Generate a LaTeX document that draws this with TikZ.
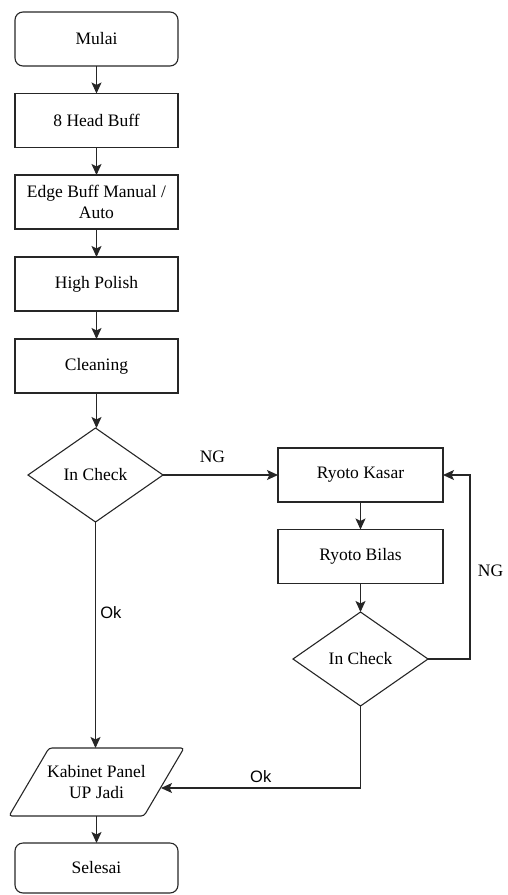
\documentclass[tikz,border=0pt]{standalone}
\usepackage{fontspec}
\setmainfont{Liberation Serif}
\newfontfamily\arialf{Liberation Sans}
\usetikzlibrary{shapes.geometric,arrows.meta,calc}
\definecolor{ln}{gray}{0.15}
\begin{document}
\begin{tikzpicture}[x=1pt,y=-1pt,
  line width=1.1pt,
  txt/.style={font=\fontsize{17.5}{21}\selectfont},
  box/.style={txt, draw=ln, minimum width=163pt, minimum height=54pt, inner sep=2pt, outer sep=0pt, align=center},
  term/.style={box, rounded corners=8pt},
  dec/.style={txt, draw=ln, diamond, minimum width=135pt, minimum height=94pt, inner sep=0pt, outer sep=0pt},
  io/.style={txt, minimum width=135pt, minimum height=68pt, inner sep=0pt, outer sep=0pt, align=center},
  arr/.style={draw=ln, -{Stealth[length=11pt,width=10pt,inset=2.5pt]}},
  lbl/.style={txt},
  lbls/.style={font=\arialf\fontsize{16.5}{19}\selectfont}
]
\useasboundingbox (0,0) rectangle (507,895);

\node[term] (mulai) at (96.5,39) {Mulai};
\node[box] (head) at (96.5,120.5) {8 Head Buff};
\node[box] (edge) at (96.5,202) {Edge Buff Manual /\\Auto};
\node[box] (polish) at (96.5,284) {High Polish};
\node[box] (clean) at (96.5,366) {Cleaning};
\node[dec] (chk1) at (95.5,475) {In Check};
\node[box, minimum width=165pt] (kasar) at (360.5,475) {Ryoto Kasar};
\node[box, minimum width=165pt] (bilas) at (360.5,556.5) {Ryoto Bilas};
\node[dec] (chk2) at (360.5,659) {In Check};
\node[io] (kab) at (96.5,782) {Kabinet Panel\\UP Jadi};
\draw[draw=ln, rounded corners=3pt]
  ($(kab.south west)+(-20,0)$) -- ($(kab.north west)+(20,0)$) --
  ($(kab.north east)+(20,0)$) -- ($(kab.south east)+(-20,0)$) -- cycle;
\node[term, minimum height=50pt] (selesai) at (96.5,868) {Selesai};
\coordinate (kabin) at ($(kab.east)+(-3,6)$);

\draw[arr] (mulai) -- (head);
\draw[arr] (head) -- (edge);
\draw[arr] (edge) -- (polish);
\draw[arr] (polish) -- (clean);
\draw[arr] (clean) -- (clean.south |- chk1.north);
\draw[arr] (chk1) -- node[lbl, above=8pt, pos=0.43] {NG} (kasar);
\draw[arr] (kasar) -- (bilas);
\draw[arr] (bilas) -- (chk2);
\draw[arr] (chk2.east) -- ++(42,0) coordinate (loop) |- node[lbl, pos=0.24, right=4pt] {NG} (kasar.east);
\draw[arr] (chk1.south) -- node[lbls, pos=0.4, right=1pt] {Ok} (chk1.south |- kab.north);
\draw[arr] (chk2.south) |- node[lbls, pos=0.75, above=1pt] {Ok} (kabin);
\draw[arr] (kab) -- (selesai);
\end{tikzpicture}
\end{document}
